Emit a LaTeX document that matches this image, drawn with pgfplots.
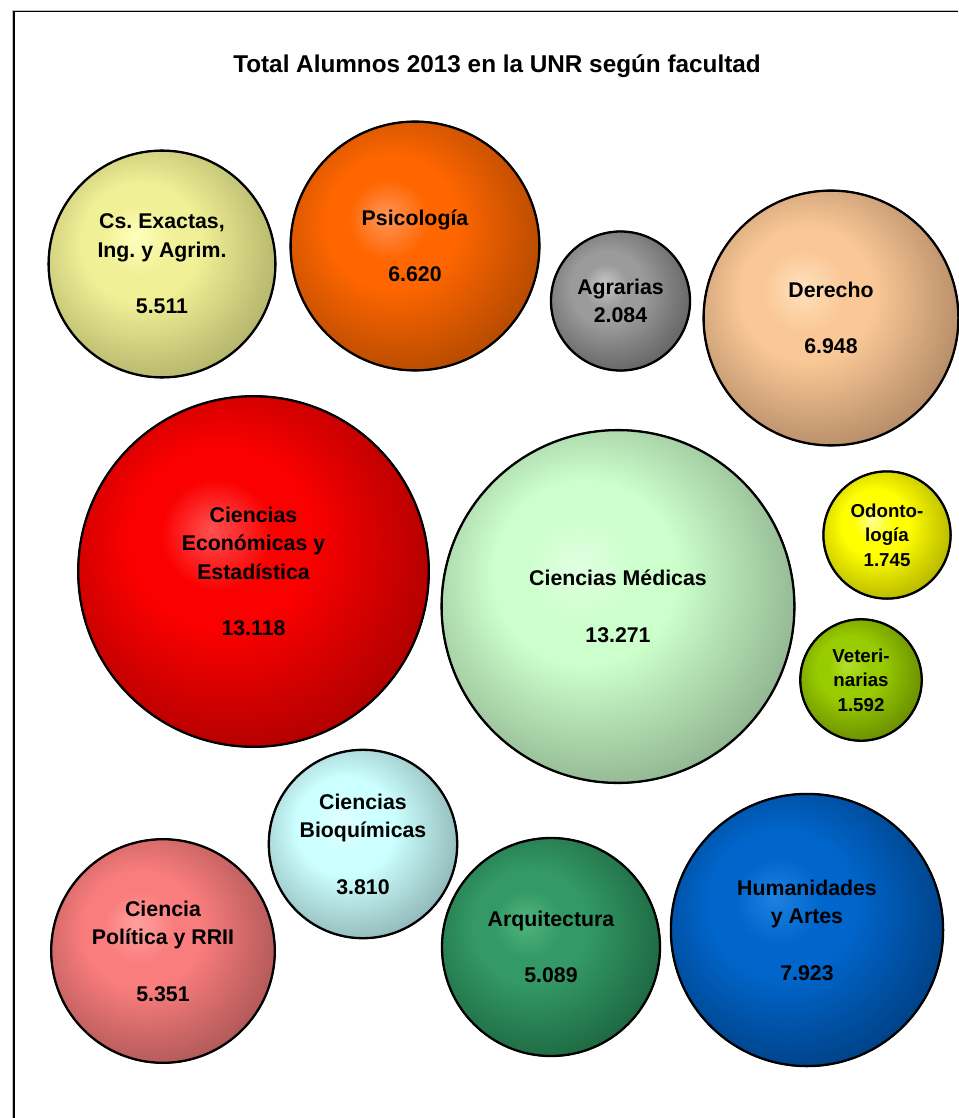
\documentclass[border=0pt]{standalone}
\usepackage{pgfplots}
\pgfplotsset{compat=1.18}
\usepackage{fontspec}
\setmainfont{Liberation Sans}[BoldFont={Liberation Sans Bold}]
\frenchspacing

\colorlet{bubhi}{white}\colorlet{bubbase}{gray}\colorlet{bubdark}{black}
\pgfdeclareradialshading[bubhi,bubbase,bubdark]{bubble}{\pgfpoint{-6bp}{6bp}}{%
  color(0bp)=(bubhi); color(8bp)=(bubbase); color(13bp)=(bubbase);
  color(21bp)=(bubbase!55!bubdark); color(31bp)=(bubdark); color(60bp)=(bubdark)}

\newcommand\defbubble[4]{%
  \pgfdeclareplotmark{#1}{%
    \colorlet{bubhi}{#2}\colorlet{bubbase}{#3}\colorlet{bubdark}{#4}%
    \shade[shading=bubble] (0pt,0pt) circle[radius=\bubR pt];
    \draw[black, line width=2.3pt] (0pt,0pt) circle[radius=\bubR pt-0.6pt];
  }}

\definecolor{Ahi}{RGB}{255,255,190}\definecolor{Aba}{RGB}{240,240,150}\definecolor{Ada}{RGB}{175,175,105}
\definecolor{Bhi}{RGB}{255,150,90}\definecolor{Bba}{RGB}{255,102,0}\definecolor{Bda}{RGB}{175,72,0}
\definecolor{Chi}{RGB}{200,200,200}\definecolor{Cba}{RGB}{155,155,155}\definecolor{Cda}{RGB}{95,95,95}
\definecolor{Dhi}{RGB}{255,225,190}\definecolor{Dba}{RGB}{250,200,150}\definecolor{Dda}{RGB}{175,135,100}
\definecolor{Ehi}{RGB}{255,80,80}\definecolor{Eba}{RGB}{250,0,0}\definecolor{Eda}{RGB}{170,0,0}
\definecolor{Fhi}{RGB}{225,255,225}\definecolor{Fba}{RGB}{204,255,204}\definecolor{Fda}{RGB}{140,175,140}
\definecolor{Ghi}{RGB}{255,255,150}\definecolor{Gba}{RGB}{255,255,0}\definecolor{Gda}{RGB}{175,175,0}
\definecolor{Hhi}{RGB}{180,225,50}\definecolor{Hba}{RGB}{153,204,0}\definecolor{Hda}{RGB}{100,135,0}
\definecolor{Ihi}{RGB}{225,255,255}\definecolor{Iba}{RGB}{204,255,255}\definecolor{Ida}{RGB}{140,178,178}
\definecolor{Jhi}{RGB}{255,160,160}\definecolor{Jba}{RGB}{250,125,125}\definecolor{Jda}{RGB}{170,85,85}
\definecolor{Khi}{RGB}{80,180,125}\definecolor{Kba}{RGB}{51,153,102}\definecolor{Kda}{RGB}{28,100,62}
\definecolor{Lhi}{RGB}{30,130,225}\definecolor{Lba}{RGB}{0,102,204}\definecolor{Lda}{RGB}{0,62,128}

\defbubble{bA}{Ahi}{Aba}{Ada}
\defbubble{bB}{Bhi}{Bba}{Bda}
\defbubble{bC}{Chi}{Cba}{Cda}
\defbubble{bD}{Dhi}{Dba}{Dda}
\defbubble{bE}{Ehi}{Eba}{Eda}
\defbubble{bF}{Fhi}{Fba}{Fda}
\defbubble{bG}{Ghi}{Gba}{Gda}
\defbubble{bH}{Hhi}{Hba}{Hda}
\defbubble{bI}{Ihi}{Iba}{Ida}
\defbubble{bJ}{Jhi}{Jba}{Jda}
\defbubble{bK}{Khi}{Kba}{Kda}
\defbubble{bL}{Lhi}{Lba}{Lda}

\newcommand\labfont{\bfseries\fontsize{21.3}{28.5}\selectfont}
\newcommand\smlabfont{\bfseries\fontsize{18.7}{24.5}\selectfont}

\begin{document}
\begin{tikzpicture}
\begin{axis}[
  x=1pt, y=1pt,
  xmin=0, xmax=958, ymin=0, ymax=1118,
  y dir=reverse,
  hide axis,
  clip=true,
  bub/.style={scatter, only marks,
    visualization depends on={\thisrow{r}\as\bubR},
    scatter/@pre marker code/.append style={/tikz/mark size=\bubR},
    every node near coord/.append style={anchor=center, align=center, text=black, font=\labfont}},
]
\coordinate (LL) at (axis cs:0,1118);
\coordinate (UR) at (axis cs:958,0);

\draw[gray!50, line width=1pt] (axis cs:12.8,1118) -- (axis cs:12.8,10.2) -- (axis cs:958,10.2);
\draw[black, line width=1.5pt] (axis cs:14.2,1118) -- (axis cs:14.2,11.6) -- (axis cs:958,11.6);

\node[font=\bfseries\fontsize{24.3}{29}\selectfont, text=black] at (axis cs:497,66) {Total Alumnos 2013 en la UNR según facultad};

\addplot[bub, mark=bA, nodes near coords={Cs. Exactas,\\Ing. y Agrim.\\[28pt]5.511}] table {
x y r
162 264 114.0
};
\addplot[bub, mark=bB, nodes near coords={Psicología\\[28pt]6.620}] table {
x y r
415 246 125.0
};
\addplot[bub, mark=bC, nodes near coords={Agrarias\\2.084}] table {
x y r
620.5 301 70.1
};
\addplot[bub, mark=bD, nodes near coords={Derecho\\[28pt]6.948}] table {
x y r
831 318 128.0
};
\addplot[bub, mark=bE, nodes near coords={Ciencias\\Económicas y\\Estadística\\[28pt]13.118}] table {
x y r
253.5 571.5 175.9
};
\addplot[bub, mark=bF, nodes near coords={Ciencias Médicas\\[28pt]13.271}] table {
x y r
618 606.5 177.0
};
\addplot[bub, mark=bG, every node near coord/.append style={font=\smlabfont}, nodes near coords={Odonto-\\logía\\1.745}] table {
x y r
887 535 64.2
};
\addplot[bub, mark=bH, every node near coord/.append style={font=\smlabfont}, nodes near coords={Veteri-\\narias\\1.592}] table {
x y r
861 680 61.3
};
\addplot[bub, mark=bI, nodes near coords={Ciencias\\Bioquímicas\\[28pt]3.810}] table {
x y r
363 844 94.8
};
\addplot[bub, mark=bJ, nodes near coords={Ciencia\\Política y RRII\\[28pt]5.351}] table {
x y r
163 951 112.4
};
\addplot[bub, mark=bK, nodes near coords={Arquitectura\\[28pt]5.089}] table {
x y r
551 947 109.6
};
\addplot[bub, mark=bL, nodes near coords={Humanidades\\y Artes\\[28pt]7.923}] table {
x y r
807 930 136.7
};
\end{axis}
\pgfresetboundingbox
\path (LL) rectangle (UR);
\end{tikzpicture}
\end{document}
